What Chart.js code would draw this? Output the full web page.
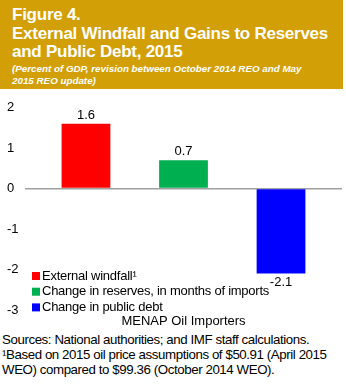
<!DOCTYPE html>
<html>
<head>
<meta charset="utf-8">
<script src="https://cdn.jsdelivr.net/npm/chart.js@4/dist/chart.umd.min.js"></script>
<style>
  body { margin: 0; width: 346px; height: 387px; background: #fff; font-family: "Liberation Sans", Arial, sans-serif; overflow: hidden; }
  #head { position: absolute; left: 0; top: 0; width: 343px; height: 89px; background: #D39F06; color: #fff; }
  #head .t { position: absolute; left: 12px; font-weight: bold; font-size: 17px; letter-spacing: -0.25px; white-space: nowrap; }
  #head .s { position: absolute; left: 12px; font-weight: bold; font-style: italic; font-size: 9.8px; white-space: nowrap; }
  #wrap { position: absolute; left: 0; top: 89px; width: 346px; height: 242px; }
  #notes { position: absolute; left: 2px; top: 332px; font-size: 13.3px; line-height: 15px; letter-spacing: -0.42px; white-space: nowrap; color: #000; }
</style>
</head>
<body>
<div id="head">
  <div class="t" style="top:5px">Figure 4.</div>
  <div class="t" style="top:24px">External Windfall and Gains to Reserves</div>
  <div class="t" style="top:42px">and Public Debt, 2015</div>
  <div class="s" style="top:63px">(Percent of GDP, revision between October 2014 REO and May</div>
  <div class="s" style="top:75px">2015 REO update)</div>
</div>
<div id="wrap"><canvas id="chart"></canvas></div>
<div id="notes">
  Sources: National authorities; and IMF staff calculations.<br>
  ¹Based on 2015 oil price assumptions of $50.91 (April 2015<br>
  WEO) compared to $99.36 (October 2014 WEO).
</div>
<script>
var categories = ['MENAP Oil Importers'];
var seriesNames = ['External windfall\u00B9', 'Change in reserves, in months of imports', 'Change in public debt'];
var seriesValues = [[1.6], [0.7], [-2.1]];
var seriesColors = ['#FF0000', '#00B050', '#0000FF'];
var yTicks = [2, 1, 0, -1, -2, -3];

var valueLabels = {
    id: 'valueLabels',
    afterDatasetsDraw: function(chart) {
        var ctx = chart.ctx;
        ctx.save();
        ctx.font = '13px "Liberation Sans", Arial';
        ctx.fillStyle = '#000';
        ctx.textAlign = 'center';
        chart.data.datasets.forEach(function(ds, i) {
            chart.getDatasetMeta(i).data.forEach(function(bar, j) {
                var v = ds.data[j];
                if (v >= 0) {
                    ctx.textBaseline = 'bottom';
                    ctx.fillText(v.toFixed(1), bar.x, bar.y - 2);
                } else {
                    ctx.textBaseline = 'top';
                    ctx.fillText(v.toFixed(1), bar.x, bar.y + 2);
                }
            });
        });
        ctx.restore();
    }
};

var innerLegend = {
    id: 'innerLegend',
    afterDraw: function(chart) {
        var ctx = chart.ctx;
        var x = chart.chartArea.left + 7;
        var y = chart.chartArea.bottom - 34;
        ctx.save();
        ctx.font = '13px "Liberation Sans", Arial';
        ctx.letterSpacing = '-0.25px';
        ctx.textBaseline = 'middle';
        ctx.textAlign = 'left';
        chart.data.datasets.forEach(function(ds, i) {
            ctx.fillStyle = ds.backgroundColor;
            ctx.fillRect(x, y + i * 15.7 - 4, 8, 8);
            ctx.fillStyle = '#000';
            ctx.fillText(ds.label, x + 10, y + i * 15.7);
        });
        ctx.restore();
    }
};

var ctx = document.getElementById('chart').getContext('2d');
var myChart = new Chart(ctx, {
    type: 'bar',
    data: {
        labels: categories,
        datasets: seriesNames.map(function(name, i) {
            return {
                label: name,
                data: seriesValues[i],
                backgroundColor: seriesColors[i],
                categoryPercentage: 0.923,
                barPercentage: 0.5
            };
        })
    },
    options: {
        responsive: true,
        maintainAspectRatio: false,
        animation: false,
        layout: { padding: { top: 18.5, right: 4, left: 7, bottom: 0 } },
        plugins: { legend: { display: false }, tooltip: { enabled: false } },
        scales: {
            x: {
                grid: { display: false, drawTicks: false },
                border: { display: false },
                afterFit: function(axis) { axis.height = 21; },
                ticks: { color: '#000', font: { family: '"Liberation Sans", Arial', size: 13 }, padding: 4 }
            },
            y: {
                min: -3,
                max: 2,
                afterBuildTicks: function(axis) {
                    axis.ticks = yTicks.map(function(v) { return { value: v }; });
                },
                afterFit: function(axis) { axis.width = 18; },
                border: { display: false },
                grid: {
                    drawTicks: false,
                    lineWidth: 1.5,
                    color: function(c) { return c.tick && c.tick.value === 0 ? '#A0A0A0' : 'rgba(0,0,0,0)'; }
                },
                ticks: { color: '#000', crossAlign: 'far', font: { family: '"Liberation Sans", Arial', size: 13 }, padding: 9 }
            }
        }
    },
    plugins: [valueLabels, innerLegend]
});
</script>
</body>
</html>
